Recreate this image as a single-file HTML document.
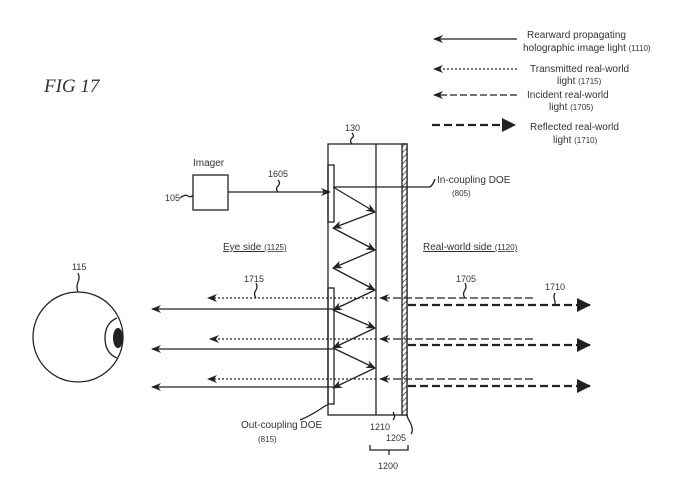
<!DOCTYPE html>
<html><head><meta charset="utf-8"><style>
html,body{margin:0;padding:0;background:#fff}
svg{display:block}
text{font-family:"Liberation Sans",sans-serif;fill:#333}
</style></head><body>
<svg width="677" height="484" viewBox="0 0 677 484" xmlns="http://www.w3.org/2000/svg">
<defs>
<marker id="a" markerWidth="10" markerHeight="8" refX="9" refY="4" orient="auto" markerUnits="userSpaceOnUse"><path d="M0,0 L10,4 L0,8 L3,4 Z" fill="#222"/></marker>
<marker id="b" markerWidth="14" markerHeight="14" refX="13" refY="7" orient="auto" markerUnits="userSpaceOnUse"><path d="M0,0 L14,7 L0,14 Z" fill="#222"/></marker>
<pattern id="h" width="4" height="4" patternUnits="userSpaceOnUse" patternTransform="rotate(45)"><rect width="4" height="4" fill="#fff"/><line x1="0" y1="0" x2="0" y2="4" stroke="#333" stroke-width="1.5"/></pattern>
</defs>
<g stroke="#222" fill="none" stroke-width="1.3">
<line x1="517" y1="39" x2="434" y2="39" marker-end="url(#a)"/>
<line x1="517" y1="69" x2="434" y2="69" stroke-dasharray="2,2" marker-end="url(#a)"/>
<line x1="517" y1="95" x2="434" y2="95" stroke-dasharray="7,3" marker-end="url(#a)"/>
<line x1="432" y1="125" x2="515" y2="125" stroke-width="2.2" stroke-dasharray="8,4" marker-end="url(#b)"/>
<rect x="193" y="175" width="35" height="35"/>
<line x1="228" y1="192" x2="330" y2="192" marker-end="url(#a)"/>
<path d="M180,198 q5,-4 8,-2 q3,2 5,-1" />
<path d="M278,192 q-3,-3 0,-6 q3,-3 0,-6"/>
<rect x="328" y="144" width="79" height="271"/>
<line x1="376" y1="144" x2="376" y2="415"/>
<rect x="402" y="144" width="5" height="271" fill="url(#h)"/>
<rect x="328" y="165" width="6" height="57"/>
<rect x="328" y="288" width="6" height="116"/>
<path d="M352,144 q-3,-3 0,-6 q3,-2 0,-5"/>
<path d="M334,187 L430,187 q3,-2 5,-8"/>
<polyline points="333,187 375,212" marker-end="url(#a)"/>
<polyline points="375,212 333,228" marker-end="url(#a)"/>
<polyline points="333,228 375,250" marker-end="url(#a)"/>
<polyline points="375,250 333,268" marker-end="url(#a)"/>
<polyline points="333,268 375,290" marker-end="url(#a)"/>
<polyline points="375,290 333,310" marker-end="url(#a)"/>
<polyline points="333,310 375,328" marker-end="url(#a)"/>
<polyline points="375,328 333,348" marker-end="url(#a)"/>
<polyline points="333,348 375,368" marker-end="url(#a)"/>
<polyline points="375,368 333,388" marker-end="url(#a)"/>
<line x1="333" y1="309" x2="152" y2="309" marker-end="url(#a)"/>
<line x1="333" y1="349" x2="152" y2="349" marker-end="url(#a)"/>
<line x1="333" y1="387" x2="152" y2="387" marker-end="url(#a)"/>
<line x1="376" y1="298" x2="208" y2="298" stroke-dasharray="2,2" marker-end="url(#a)"/>
<line x1="376" y1="339" x2="210" y2="339" stroke-dasharray="2,2" marker-end="url(#a)"/>
<line x1="376" y1="379" x2="208" y2="379" stroke-dasharray="2,2" marker-end="url(#a)"/>
<line x1="533" y1="298" x2="380" y2="298" stroke-dasharray="8,3" marker-end="url(#a)"/>
<line x1="533" y1="339" x2="380" y2="339" stroke-dasharray="8,3" marker-end="url(#a)"/>
<line x1="533" y1="379" x2="380" y2="379" stroke-dasharray="8,3" marker-end="url(#a)"/>
<line x1="408" y1="305" x2="590" y2="305" stroke-width="2.2" stroke-dasharray="8,4" marker-end="url(#b)"/>
<line x1="408" y1="345" x2="590" y2="345" stroke-width="2.2" stroke-dasharray="8,4" marker-end="url(#b)"/>
<line x1="408" y1="386" x2="590" y2="386" stroke-width="2.2" stroke-dasharray="8,4" marker-end="url(#b)"/>
<path d="M465,298 q-3,-4 0,-8 q2,-3 0,-7"/>
<path d="M555,305 l0,-4 q-2,-4 0,-8"/>
<path d="M256,298 q-3,-4 0,-8 q2,-3 0,-7"/>
<circle cx="78" cy="337" r="45"/>
<path d="M117,318 q-12,5 -12,20 q0,15 12,20"/>
<ellipse cx="118" cy="338" rx="5" ry="10" fill="#222" stroke="none"/>
<path d="M78,292 q-2,-5 0,-10 q2,-4 0,-9"/>
<path d="M300,420 q10,-4 22,-12 q4,-3 6,-3"/>
<path d="M393,420 q3,-3 0,-8"/>
<path d="M411,434 q3,-4 -1,-12 q-3,-5 -3,-7"/>
<polyline points="370,445 370,450 408,450 408,445"/>
<line x1="389" y1="450" x2="389" y2="455"/>
</g>
<text x="44" y="92" font-style="italic" font-size="19" style="font-family:'Liberation Serif',serif">FIG 17</text>
<g font-size="10">
<text x="527" y="38">Rearward propagating</text>
<text x="523" y="51">holographic image light <tspan font-size="8">(1110)</tspan></text>
<text x="530" y="72">Transmitted real-world</text>
<text x="557" y="84">light <tspan font-size="8">(1715)</tspan></text>
<text x="527" y="98">Incident real-world</text>
<text x="549" y="110">light <tspan font-size="8">(1705)</tspan></text>
<text x="530" y="130">Reflected real-world</text>
<text x="553" y="143">light <tspan font-size="8">(1710)</tspan></text>
<text x="193" y="166">Imager</text>
<text x="165" y="201" font-size="9">105</text>
<text x="268" y="177" font-size="9">1605</text>
<text x="345" y="131" font-size="9">130</text>
<text x="437" y="183">In-coupling DOE</text>
<text x="452" y="196" font-size="8">(805)</text>
<text x="223" y="250" text-decoration="underline">Eye side <tspan font-size="8">(1125)</tspan></text>
<text x="423" y="250" text-decoration="underline">Real-world side <tspan font-size="8">(1120)</tspan></text>
<text x="244" y="282" font-size="9">1715</text>
<text x="456" y="282" font-size="9">1705</text>
<text x="545" y="290" font-size="9">1710</text>
<text x="72" y="270" font-size="9">115</text>
<text x="241" y="428">Out-coupling DOE</text>
<text x="258" y="442" font-size="8">(815)</text>
<text x="370" y="430" font-size="9">1210</text>
<text x="386" y="441" font-size="9">1205</text>
<text x="378" y="469" font-size="9">1200</text>
</g>
</svg>
</body></html>
